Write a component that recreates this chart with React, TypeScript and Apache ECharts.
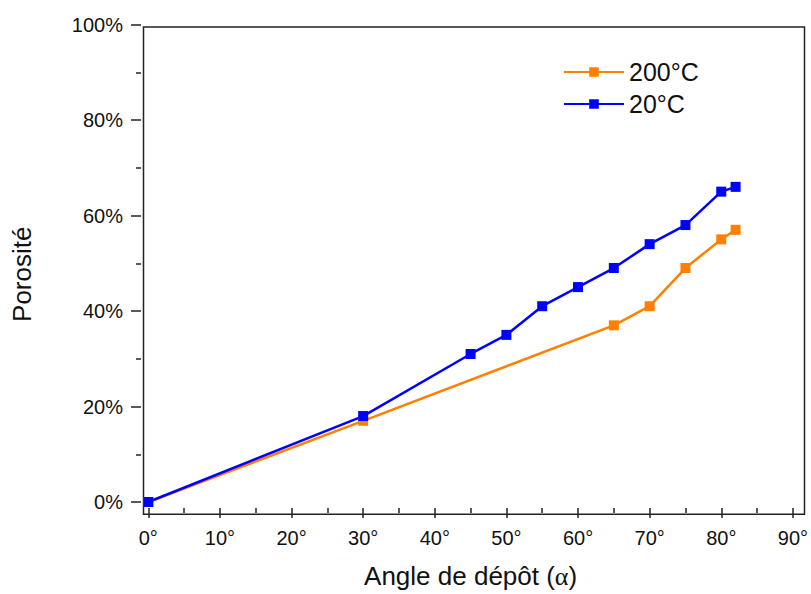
import React, { useEffect, useRef } from "react";
import * as echarts from "echarts";

const angles20 = [0, 30, 45, 50, 55, 60, 65, 70, 75, 80, 82];
const porosity20 = [0, 18, 31, 35, 41, 45, 49, 54, 58, 65, 66];
const angles200 = [0, 30, 65, 70, 75, 80, 82];
const porosity200 = [0, 17, 37, 41, 49, 55, 57];

const seriesNames = ["200°C", "20°C"];
const FONT = "Liberation Sans, Arial, sans-serif";
const AX = "#222";

export default function App() {
  const ref = useRef<HTMLDivElement>(null);
  useEffect(() => {
    if (!ref.current) return;
    const chart = echarts.init(ref.current, undefined, { renderer: "svg" });
    const tickStyle = { color: AX, width: 1.5 };
    chart.setOption({
      animation: false,
      textStyle: { fontFamily: FONT },
      grid: {
        left: 148.3,
        right: 14.7,
        top: 24.5,
        bottom: 88.2,
        show: false,
      },
      graphic: [
        {
          type: "rect",
          left: 141,
          top: 24.5,
          shape: { width: 661, height: 487.2 },
          style: { fill: "none", stroke: AX, lineWidth: 1.5 },
          silent: true,
        },
      ],
      legend: {
        data: seriesNames,
        orient: "vertical",
        left: 558,
        top: 54,
        itemWidth: 60,
        itemHeight: 12,
        itemGap: 6,
        textStyle: { fontSize: 25, color: "#111", fontFamily: FONT, lineHeight: 26 },
      },
      xAxis: {
        type: "value",
        min: 0,
        max: 90,
        interval: 10,
        offset: 6,
        name: "Angle de dépôt ({a|α})",
        nameLocation: "middle",
        nameGap: 55,
        nameTextStyle: {
          fontSize: 26,
          color: "#111",
          fontFamily: FONT,
          rich: { a: { fontSize: 26, color: "#111", fontFamily: "Liberation Serif, DejaVu Serif, serif" } },
        },
        axisLine: { show: false, onZero: false },
        axisTick: { show: true, length: 10, lineStyle: tickStyle },
        minorTick: { show: true, splitNumber: 2, length: 5, lineStyle: tickStyle },
        axisLabel: {
          formatter: (v: number) => `${v}°`,
          fontSize: 20,
          color: "#111",
          margin: 20,
          fontFamily: FONT,
        },
        splitLine: { show: false },
      },
      yAxis: {
        type: "value",
        min: 0,
        max: 100,
        interval: 20,
        offset: 7.3,
        name: "Porosité",
        nameLocation: "middle",
        nameGap: 106,
        nameRotate: 90,
        nameTextStyle: { fontSize: 26, color: "#111", fontFamily: FONT, padding: [0, 22, 0, 0] },
        axisLine: { show: false, onZero: false },
        axisTick: { show: true, length: 10, lineStyle: tickStyle },
        minorTick: { show: true, splitNumber: 2, length: 5, lineStyle: tickStyle },
        axisLabel: {
          formatter: (v: number) => `${v}%`,
          fontSize: 20,
          color: "#111",
          margin: 18,
          fontFamily: FONT,
        },
        splitLine: { show: false },
      },
      series: [
        {
          name: seriesNames[0],
          type: "line",
          data: angles200.map((a, i) => [a, porosity200[i]]),
          symbol: "rect",
          symbolSize: 10,
          color: "#FF8000",
          clip: false,
          lineStyle: { width: 2.5, color: "#FF8000" },
          itemStyle: { color: "#FF8000" },
        },
        {
          name: seriesNames[1],
          type: "line",
          data: angles20.map((a, i) => [a, porosity20[i]]),
          symbol: "rect",
          symbolSize: 10,
          color: "#0000FF",
          clip: false,
          lineStyle: { width: 2.5, color: "#0000FF" },
          itemStyle: { color: "#0000FF" },
        },
      ],
    });
    return () => chart.dispose();
  }, []);
  return <div ref={ref} style={{ width: 811, height: 594, position: "absolute", left: 0, top: 0, background: "#fff" }} />;
}
